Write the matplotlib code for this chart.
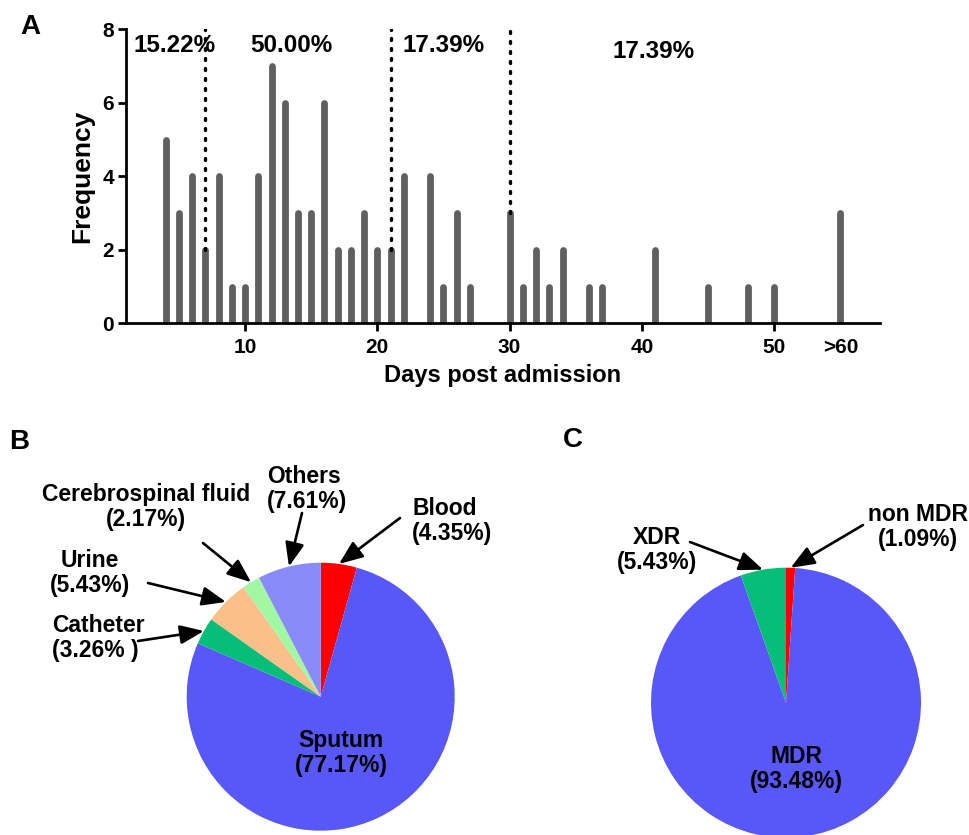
import numpy as np
import matplotlib
matplotlib.use("Agg")
import matplotlib.pyplot as plt

# panel A data: day post admission and number of isolates (">60" drawn at 55)
days = [4, 5, 6, 7, 8, 9, 10, 11, 12, 13, 14, 15, 16, 17, 18, 19, 20, 21, 22,
        24, 25, 26, 27, 30, 31, 32, 33, 34, 36, 37, 41, 45, 48, 50, 55]
freq = [5, 3, 4, 2, 4, 1, 1, 4, 7, 6, 3, 3, 6, 2, 2, 3, 2, 2, 4,
        4, 1, 3, 1, 3, 1, 2, 1, 2, 1, 1, 2, 1, 1, 1, 3]
tick_pos = [10, 20, 30, 40, 50, 55]
tick_labels = ['10', '20', '30', '40', '50', '>60']
cut_days = [7, 21, 30]
cut_tops = [2, 2, 3]
period_labels = ['15.22%', '50.00%', '17.39%', '17.39%']
period_x = [4.7, 13.5, 25.0, 40.9]
period_y = [7.55, 7.55, 7.55, 7.4]

# panel B data (clockwise from 12 o'clock)
src_names = ['Blood', 'Sputum', 'Catheter', 'Urine', 'Cerebrospinal fluid', 'Others']
src_pct = [4.35, 77.17, 3.26, 5.43, 2.17, 7.61]
src_pct_txt = ['(4.35%)', '(77.17%)', '(3.26% )', '(5.43%)', '(2.17%)', '(7.61%)']
src_colors = ['#FF0000', '#5858F8', '#06BE78', '#FBC08A', '#A2F8A2', '#8A8AF8']

# panel C data
res_names = ['non MDR', 'MDR', 'XDR']
res_pct = [1.09, 93.48, 5.43]
res_pct_txt = ['(1.09%)', '(93.48%)', '(5.43%)']
res_colors = ['#FF0000', '#5858F8', '#06BE78']

plt.rcParams['font.family'] = ['Liberation Sans', 'DejaVu Sans']
plt.rcParams['font.weight'] = 'bold'

W, H = 969, 835
fig = plt.figure(figsize=(W / 100, H / 100), dpi=100)


def fpx(x, y):
    # image pixel (top-left origin) -> figure pixels
    return (x, H - y)


# ---------------- panel A ----------------
ax = fig.add_axes([126 / W, 1 - 323.3 / H, (880 - 126) / W, 294 / H])
bars = ax.vlines(days, 0, freq, colors='#606060', linewidth=4.9, zorder=2)
bars.set_capstyle('round')
ax.vlines(cut_days, cut_tops, 8, colors='k', linewidth=2.4,
          linestyles=(0, (0.6, 2.4)), zorder=3, capstyle='round')
for s, x, y in zip(period_labels, period_x, period_y):
    ax.text(x, y, s, ha='center', va='center', fontsize=17.5, fontweight='bold')

ax.set_xlim(1, 58)
ax.set_ylim(0, 8)
ax.set_yticks([0, 2, 4, 6, 8])
ax.set_xticks(tick_pos)
ax.set_xticklabels(tick_labels)
ax.spines['top'].set_visible(False)
ax.spines['right'].set_visible(False)
for sp in ['left', 'bottom']:
    ax.spines[sp].set_linewidth(2)
    ax.spines[sp].set_zorder(4)
ax.tick_params(width=2, length=5.5, labelsize=15, direction='out')
ax.tick_params(axis='x', pad=5)
ax.tick_params(axis='y', pad=3)
ax.xaxis.get_major_ticks()[-1].tick1line.set_visible(False)
ax.set_xlabel('Days post admission', fontsize=17, fontweight='bold', labelpad=5)
ax.set_ylabel('Frequency', fontsize=19, fontweight='bold', labelpad=6)

fig.text(30 / W, 1 - 27 / H, 'A', fontsize=20, fontweight='bold', ha='center', va='center')
fig.text(19 / W, 1 - 442 / H, 'B', fontsize=20, fontweight='bold', ha='center', va='center')
fig.text(573 / W, 1 - 440 / H, 'C', fontsize=20, fontweight='bold', ha='center', va='center')


def pie_axes(cx, cy, r, lim=1.05):
    half = r * lim
    a = fig.add_axes([(cx - half) / W, (H - cy - half) / H, 2 * half / W, 2 * half / H])
    return a


def tip(wedge):
    ang = np.deg2rad((wedge.theta1 + wedge.theta2) / 2)
    return (np.cos(ang), np.sin(ang))


arrow_kw = dict(arrowstyle='-|>,head_length=0.5,head_width=0.2', color='k',
                lw=1.9, mutation_scale=29, shrinkA=0, shrinkB=0)

# ---------------- panel B ----------------
axb = pie_axes(320.7, 696.7, 134)
wb, _ = axb.pie(src_pct, colors=src_colors, startangle=90, counterclock=False,
                wedgeprops=dict(linewidth=0))
axb.set_xlim(-1.05, 1.05)
axb.set_ylim(-1.05, 1.05)
axb.set_aspect('equal')
axb.axis('off')

# label text positions (image pixels) and arrow start points
b_text = {0: (412, 521, 'left'), 1: (341, 753, 'center'), 2: (52, 638, 'left'),
          3: (90, 573, 'center'), 4: (146, 507, 'center'), 5: (267, 489, 'left')}
b_arrow = {0: (400, 518), 2: (138, 641), 3: (148, 583), 4: (203, 543), 5: (302, 513)}
for i, name in enumerate(src_names):
    tx, ty, ha = b_text[i]
    fig.text(tx / W, 1 - ty / H, name + '\n' + src_pct_txt[i], ha=ha, va='center',
             multialignment=ha, fontsize=16.5, fontweight='bold', linespacing=1.15)
    if i in b_arrow:
        axb.annotate('', xy=tip(wb[i]), xycoords='data',
                     xytext=fpx(*b_arrow[i]), textcoords='figure pixels',
                     arrowprops=arrow_kw, annotation_clip=False)

# ---------------- panel C ----------------
axc = pie_axes(786, 702.7, 135)
wc, _ = axc.pie(res_pct, colors=res_colors, startangle=90, counterclock=False,
                wedgeprops=dict(linewidth=0))
axc.set_xlim(-1.05, 1.05)
axc.set_ylim(-1.05, 1.05)
axc.set_aspect('equal')
axc.axis('off')

c_text = {0: (918, 527), 1: (796, 769), 2: (657, 550)}
c_arrow = {0: (863, 525), 2: (690, 542)}
for i, name in enumerate(res_names):
    tx, ty = c_text[i]
    fig.text(tx / W, 1 - ty / H, name + '\n' + res_pct_txt[i], ha='center', va='center',
             multialignment='center', fontsize=16.5, fontweight='bold', linespacing=1.15)
    if i in c_arrow:
        axc.annotate('', xy=tip(wc[i]), xycoords='data',
                     xytext=fpx(*c_arrow[i]), textcoords='figure pixels',
                     arrowprops=arrow_kw, annotation_clip=False)

fig.savefig('out.png', dpi=100)
